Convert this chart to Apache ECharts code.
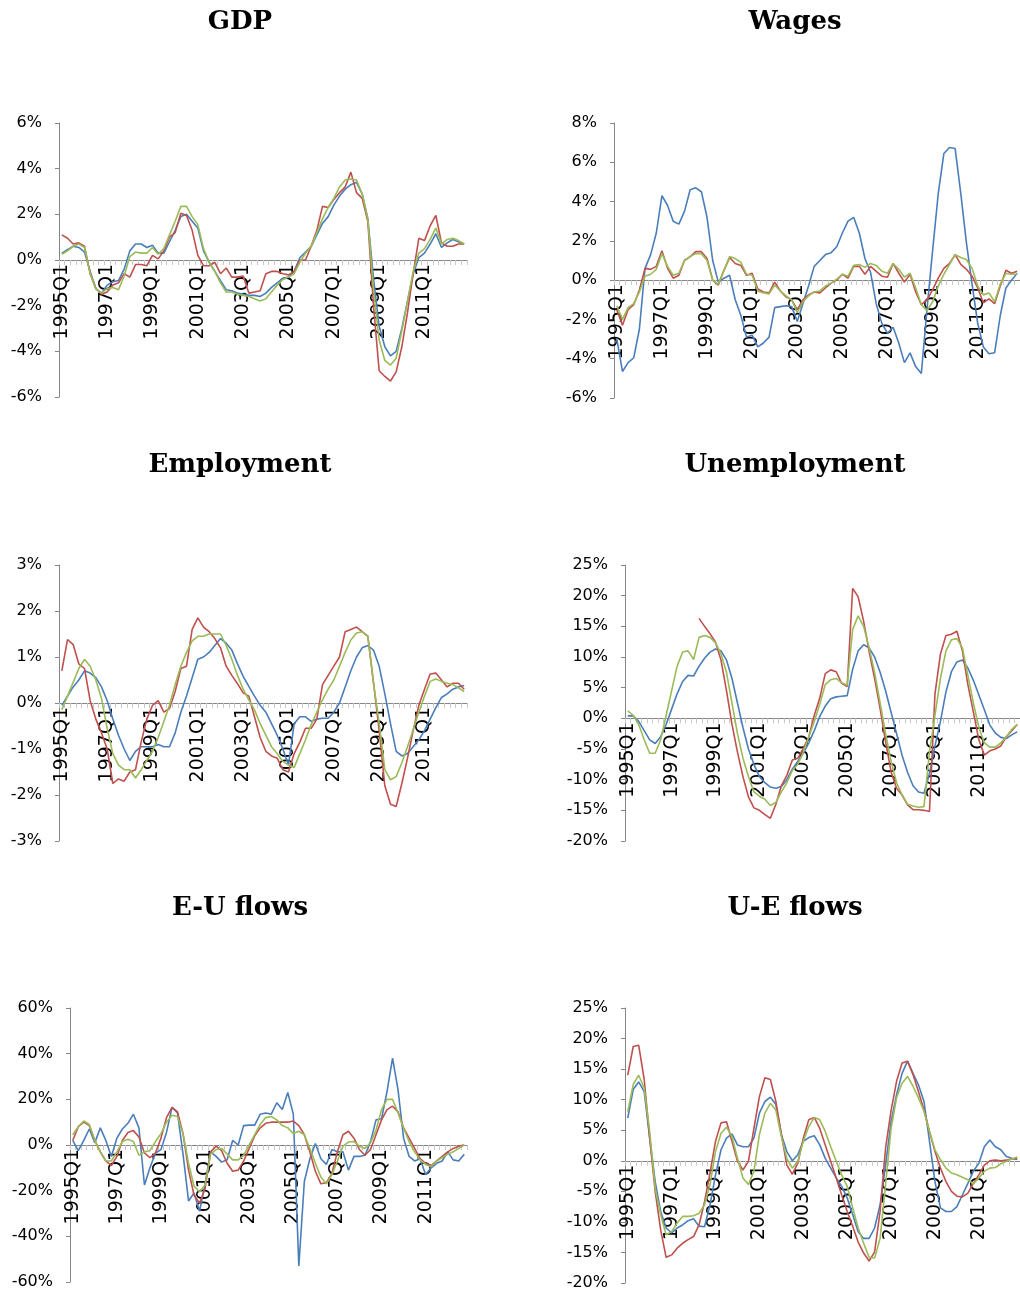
<!DOCTYPE html>
<html><head><meta charset="utf-8">
<script src="https://cdn.jsdelivr.net/npm/echarts@6/dist/echarts.min.js"></script>
<style>html,body{margin:0;padding:0;background:#fff;overflow:hidden}#c{width:1020px;height:1292px}</style>
</head><body><div id="c"></div><script>
const quarters = ['1995Q1','1995Q2','1995Q3','1995Q4','1996Q1','1996Q2','1996Q3','1996Q4','1997Q1','1997Q2','1997Q3','1997Q4','1998Q1','1998Q2','1998Q3','1998Q4','1999Q1','1999Q2','1999Q3','1999Q4','2000Q1','2000Q2','2000Q3','2000Q4','2001Q1','2001Q2','2001Q3','2001Q4','2002Q1','2002Q2','2002Q3','2002Q4','2003Q1','2003Q2','2003Q3','2003Q4','2004Q1','2004Q2','2004Q3','2004Q4','2005Q1','2005Q2','2005Q3','2005Q4','2006Q1','2006Q2','2006Q3','2006Q4','2007Q1','2007Q2','2007Q3','2007Q4','2008Q1','2008Q2','2008Q3','2008Q4','2009Q1','2009Q2','2009Q3','2009Q4','2010Q1','2010Q2','2010Q3','2010Q4','2011Q1','2011Q2','2011Q3','2011Q4','2012Q1','2012Q2','2012Q3','2012Q4'];

const gdpBlue = [0.3,0.45,0.6,0.55,0.35,-0.5,-1.25,-1.45,-1.1,-0.95,-0.9,-0.4,0.4,0.7,0.7,0.55,0.65,0.3,0.3,0.8,1.3,1.9,2.0,1.7,1.4,0.4,-0.1,-0.5,-0.9,-1.3,-1.35,-1.45,-1.5,-1.55,-1.55,-1.6,-1.45,-1.2,-1.0,-0.8,-0.75,-0.5,0.1,0.35,0.6,1.1,1.6,1.9,2.4,2.8,3.1,3.3,3.4,2.9,1.8,-0.8,-2.9,-3.8,-4.2,-4.0,-3.0,-1.8,-0.6,0.1,0.3,0.7,1.15,0.55,0.75,0.9,0.8,0.7];
const gdpRed = [1.1,0.95,0.7,0.75,0.6,-0.6,-1.25,-1.5,-1.4,-1.1,-1.0,-0.6,-0.75,-0.2,-0.2,-0.25,0.2,0.05,0.4,1.0,1.2,2.05,1.95,1.3,0.2,-0.25,-0.25,-0.1,-0.6,-0.35,-0.75,-0.75,-0.7,-1.45,-1.4,-1.35,-0.6,-0.5,-0.5,-0.6,-0.65,-0.5,0,0,0.6,1.3,2.35,2.3,2.65,2.95,3.2,3.85,2.95,2.7,1.7,-2.0,-4.85,-5.1,-5.3,-4.9,-3.8,-2.3,-0.6,0.95,0.85,1.5,1.95,0.75,0.6,0.6,0.7,0.7];
const gdpGreen = [0.25,0.4,0.6,0.7,0.55,-0.6,-1.25,-1.45,-1.25,-1.2,-1.3,-0.7,0.15,0.35,0.3,0.3,0.55,0.25,0.5,1.1,1.7,2.35,2.35,1.9,1.55,0.5,-0.1,-0.5,-1.0,-1.4,-1.4,-1.5,-1.55,-1.6,-1.7,-1.8,-1.7,-1.4,-1.1,-0.85,-0.75,-0.6,-0.1,0.3,0.6,1.2,1.8,2.3,2.7,3.2,3.5,3.55,3.5,2.9,1.8,-1.3,-3.5,-4.4,-4.6,-4.3,-3.1,-1.8,-0.5,0.3,0.5,0.9,1.4,0.7,0.9,0.95,0.85,0.7];

const wageBlue = [-3.0,-4.65,-4.2,-3.95,-2.5,0.6,1.3,2.4,4.3,3.8,3.0,2.85,3.5,4.6,4.7,4.5,3.2,1.0,-0.1,0.1,0.25,-1.0,-1.8,-2.9,-2.8,-3.4,-3.2,-2.9,-1.4,-1.35,-1.3,-1.35,-2.1,-1.2,-0.3,0.7,1.0,1.3,1.4,1.7,2.4,3.0,3.2,2.4,1.1,0.4,-1.2,-2.2,-2.7,-2.4,-3.2,-4.2,-3.7,-4.4,-4.75,-1.5,1.5,4.4,6.45,6.75,6.7,4.4,1.9,-0.2,-2.2,-3.4,-3.75,-3.7,-1.8,-0.4,0.0,0.35];
const wageRed = [-1.5,-2.3,-1.5,-1.25,-0.5,0.6,0.55,0.7,1.5,0.6,0.1,0.25,1.0,1.2,1.45,1.45,1.1,0.0,-0.25,0.5,1.15,0.85,0.75,0.25,0.35,-0.45,-0.6,-0.65,-0.1,-0.55,-0.85,-1.0,-1.5,-1.0,-0.75,-0.6,-0.65,-0.4,-0.15,0,0.3,0.1,0.7,0.7,0.3,0.7,0.45,0.2,0.15,0.85,0.35,-0.1,0.3,-0.6,-1.25,-1.0,-0.5,0.1,0.6,0.85,1.3,0.8,0.55,0.2,-0.4,-1.15,-0.95,-1.2,-0.3,0.5,0.35,0.45];
const wageGreen = [-1.3,-2.0,-1.4,-1.2,-0.6,0.2,0.3,0.55,1.35,0.7,0.25,0.35,1.0,1.2,1.35,1.35,1.0,0.0,-0.2,0.5,1.2,1.1,0.9,0.3,0.25,-0.55,-0.65,-0.7,-0.25,-0.55,-0.8,-1.0,-1.65,-1.1,-0.8,-0.6,-0.55,-0.3,-0.15,0.05,0.3,0.2,0.75,0.8,0.65,0.85,0.75,0.45,0.35,0.85,0.55,0.15,0.35,-0.4,-1.25,-1.55,-1.1,-0.3,0.3,0.8,1.3,1.15,1.05,0.6,-0.3,-0.75,-0.65,-1.1,-0.2,0.35,0.3,0.3];

const empBlue = [-0.05,0.15,0.35,0.5,0.7,0.65,0.55,0.35,0.05,-0.35,-0.7,-1.0,-1.25,-1.05,-0.95,-0.95,-0.95,-0.9,-0.95,-0.95,-0.65,-0.2,0.15,0.55,0.95,1.0,1.1,1.25,1.4,1.3,1.15,0.85,0.58,0.36,0.15,-0.05,-0.2,-0.45,-0.7,-1.0,-1.35,-0.45,-0.3,-0.3,-0.4,-0.35,-0.33,-0.33,-0.2,0.0,0.35,0.7,1.0,1.2,1.25,1.15,0.8,0.2,-0.45,-1.05,-1.15,-1.1,-0.95,-0.8,-0.6,-0.35,-0.1,0.12,0.2,0.3,0.35,0.38];
const empRed = [0.7,1.38,1.27,0.85,0.75,0.05,-0.35,-0.65,-1.0,-1.75,-1.65,-1.7,-1.5,-1.45,-0.85,-0.35,-0.05,0.05,-0.2,-0.12,0.25,0.75,0.8,1.6,1.85,1.65,1.55,1.4,1.2,0.8,0.6,0.42,0.22,0.15,-0.3,-0.75,-1.05,-1.15,-1.2,-1.45,-1.5,-1.1,-0.85,-0.55,-0.55,-0.35,0.4,0.6,0.8,1.0,1.55,1.6,1.65,1.55,1.45,0.45,-0.6,-1.8,-2.2,-2.25,-1.75,-1.2,-0.6,-0.05,0.3,0.63,0.65,0.5,0.35,0.43,0.43,0.3];
const empGreen = [-0.15,0.15,0.45,0.75,0.95,0.8,0.5,0.1,-0.55,-1.1,-1.35,-1.45,-1.45,-1.63,-1.45,-1.25,-1.05,-0.75,-0.4,-0.05,0.4,0.8,1.1,1.35,1.45,1.45,1.5,1.5,1.5,1.25,0.95,0.6,0.3,0.07,-0.15,-0.45,-0.7,-0.95,-1.1,-1.27,-1.35,-1.4,-1.1,-0.8,-0.47,-0.2,0.07,0.3,0.5,0.8,1.1,1.37,1.52,1.55,1.46,0.43,-0.43,-1.45,-1.67,-1.6,-1.3,-0.95,-0.58,-0.2,0.15,0.47,0.52,0.47,0.43,0.4,0.33,0.25];

const unBlue = [0.4,0.4,-0.5,-2.0,-3.5,-4.1,-3.0,-1.0,1.5,4.0,6.0,7.0,6.9,8.5,9.8,10.8,11.3,11.0,9.5,6.5,2.5,-1.5,-5.0,-7.5,-9.5,-10.5,-11.2,-11.4,-11.1,-10.0,-8.3,-7.0,-5.7,-4.0,-2.0,0.3,2.0,3.2,3.5,3.6,3.7,8.0,11.0,12.0,11.5,10.0,7.5,4.5,1.0,-2.5,-6.0,-8.8,-11.0,-12.0,-12.2,-9.0,-4.5,-0.5,4.3,7.6,9.2,9.5,8.2,6.2,3.8,1.4,-1.1,-2.4,-3.1,-3.3,-2.7,-2.2];
const unRed = [null,null,null,null,null,null,null,null,null,null,null,null,null,16.3,15.0,13.8,12.4,9.5,4.5,-1.0,-5.5,-9.5,-12.8,-14.6,-15.0,-15.7,-16.3,-14.0,-11.0,-9.3,-6.8,-6.5,-4.9,-3.0,0.5,3.3,7.3,7.9,7.6,5.7,5.2,21.2,19.8,15.8,10.9,6.5,1.6,-3.8,-8.7,-11.4,-12.5,-14.1,-14.9,-14.9,-15.0,-15.2,4.0,10.5,13.5,13.7,14.2,11.0,5.5,1.0,-3.5,-6.0,-5.3,-5.0,-4.5,-3.0,-2.0,-1.0];
const unGreen = [1.2,0.5,-1.0,-3.5,-5.7,-5.7,-3.5,0.5,4.5,8.5,10.8,11.0,9.6,13.2,13.5,13.2,12.3,10.5,7.5,2.5,-2.5,-6.5,-9.5,-12.0,-12.7,-13.2,-14.2,-13.7,-12.0,-10.5,-8.5,-7.5,-5.5,-3.0,-0.5,2.3,5.5,6.3,6.5,5.8,5.4,14.5,16.7,15.0,11.5,7.5,2.5,-2.5,-7.0,-10.5,-12.5,-14.0,-14.3,-14.5,-14.4,-5.5,0.5,6.5,11.0,12.8,13.0,11.5,7.0,2.5,-1.5,-4.0,-4.7,-4.7,-4.0,-3.0,-1.8,-1.0];

const euBlue = [2,-2.5,2,7,1,7.5,2,-5,3,7,9.5,13.5,7.5,-17.5,-10,-3.5,-2,5.5,16.5,14,-4,-24.5,-21,-29,-17,-3,-5,-7.5,-6.5,2,0,8.5,8.7,8.7,13.5,14,13.5,18.5,15.5,23,13.5,-53,-16,-6,0.7,-6,-8.5,-2,-3,-3,-11,-5,-5,-4.5,1.5,11,11.5,23.5,38,24,3,-5,-7,-6,-13,-10,-8,-7,-3,-6.5,-7,-4];
const euRed = [2,8,10,8.5,2,-3,-7,-9,-5,2,5.5,6.3,3.5,-3.5,-5.5,-3.5,3,12,16.5,14.5,5,-11,-22,-25.5,-19,-3,-0.5,-2.5,-8,-11.5,-11,-7,-1.5,4,7.5,9.5,10,10,10,10,10.5,8.5,4.5,-3,-11.5,-17,-16.5,-12.5,-3,4.5,6,3,-2,-4.5,-2,4.5,11,15.5,17,14.5,7.5,3,-1.5,-6,-8,-9,-7,-5,-3,-1.5,-0.5,0];
const euGreen = [4.5,8,10.5,9,2,-3,-7,-7,-3,1.5,2.5,1.5,-4.5,-3,-2.5,1.5,5,10,13,12.5,5,-8,-18,-20.5,-17.5,-4,-2,-1.5,-4,-6.5,-6.5,-4.5,0,4.5,9,12,12.5,11,8.5,7.5,5,6,4.5,-1.5,-8,-14,-17,-13,-7,-0.5,1.3,1.5,-0.5,-1.5,1,6.5,15.5,20,20,14,7.5,1.5,-3,-6.5,-8.5,-9.5,-7,-5.5,-4,-3,-1.5,0];

const ueBlue = [7,11.7,12.9,11.3,3.7,-3.4,-8.3,-11,-11.8,-11,-10.5,-9.8,-9.5,-10.7,-10.8,-7.2,-2.3,1.8,3.7,4.4,2.6,2.3,2.3,3.7,7.8,9.7,10.4,9.2,4.3,1.5,0,1,3.2,3.8,4.1,2.6,0.4,-1.2,-2.8,-4.2,-6.1,-8.8,-11.6,-12.7,-12.7,-11,-7.2,-0.7,6.4,10.8,14.3,16.3,14.3,12.4,9.7,3.2,-3.4,-7.7,-8.3,-8.3,-7.5,-5.6,-3.7,-1.7,-0.4,2.3,3.4,2.3,1.8,0.7,0.4,0.2];
const ueRed = [14,18.7,18.9,13.3,3.7,-5,-11.3,-15.8,-15.4,-14.3,-13.5,-12.9,-12.4,-10.5,-6.7,-2,3.2,6.2,6.4,3.2,-0.1,-1.5,-0.1,5.3,10.5,13.6,13.3,9.7,4.3,-0.7,-2.2,-0.4,3.7,6.7,7.1,5.3,2.6,-0.1,-2.8,-5.6,-8.3,-10.7,-13.3,-15.1,-16.4,-14.9,-8.3,2.1,8.2,13,16,16.3,14.1,11.3,8.3,4.8,1.5,-1.2,-3.4,-5,-5.8,-5.9,-5.3,-3.7,-2.3,-0.7,0,0.1,0,0.1,0.3,0.4];
const ueGreen = [8,12.5,14,11.9,4.8,-4.5,-8.8,-12.1,-11.6,-10.2,-9.1,-9.1,-9,-8.6,-7.2,-3.9,1.5,4.5,5.5,4,0.4,-2.8,-3.9,-1.7,4.3,7.8,9.4,8.3,4,0.4,-1.2,-0.1,3.2,5.6,7.1,6.7,4.8,2.3,-0.1,-2.3,-4.2,-7.7,-11,-13.5,-15.8,-15.9,-12.7,-3.9,5.3,10.3,12.7,13.8,12.2,10.3,8.1,4.8,1.8,0.2,-1.2,-2,-2.3,-2.7,-3.1,-3.8,-2.8,-1.7,-1.2,-1.1,-0.5,-0.1,0.3,0.6];

const titles = ['GDP','Wages','Employment','Unemployment','E-U flows','U-E flows'];
const yMin = [-6,-6,-3,-20,-60,-20];
const yMax = [6,8,3,25,60,25];
const yStep = [2,2,1,5,20,5];

const seriesSets = [
  [gdpBlue, gdpRed, gdpGreen],
  [wageBlue, wageRed, wageGreen],
  [empBlue, empRed, empGreen],
  [unBlue, unRed, unGreen],
  [euBlue, euRed, euGreen],
  [ueBlue, ueRed, ueGreen]
];
const colors = ['#4A7EBB', '#C0504D', '#9BBB59'];

// layout (pixels)
const grids = [
  {left: 59, top: 123, width: 408, height: 274},
  {left: 614, top: 123, width: 408, height: 275},
  {left: 59, top: 565, width: 408, height: 276},
  {left: 625, top: 565, width: 398, height: 276},
  {left: 70, top: 1008, width: 397, height: 274},
  {left: 625, top: 1008, width: 398, height: 275}
];
const titlePos = [[235, 4], [790, 4], [235, 447], [790, 447], [235, 890], [790, 890]];

const option = {
  animation: false,
  backgroundColor: '#ffffff',
  title: titles.map((t, i) => ({
    text: t, left: titlePos[i][0], top: titlePos[i][1], textAlign: 'center',
    textStyle: {fontFamily: 'DejaVu Serif', fontWeight: 'bold', fontSize: 26, color: '#000'}
  })),
  grid: grids.map(g => Object.assign({containLabel: false}, g)),
  xAxis: grids.map((g, i) => ({
    type: 'category', gridIndex: i, data: quarters, boundaryGap: true, position: 'bottom',
    // place the category axis (line, ticks, labels) on the zero line of the value axis
    offset: -g.height * (0 - yMin[i]) / (yMax[i] - yMin[i]),
    axisLine: {onZero: false, lineStyle: {color: '#868686', width: 1}},
    axisTick: {show: true, interval: 0, length: 5, lineStyle: {color: '#c8c8c8'}},
    axisLabel: {interval: 7, rotate: 90, margin: 4, fontSize: 19, fontFamily: 'DejaVu Sans', color: '#000'},
    splitLine: {show: false}
  })),
  yAxis: grids.map((g, i) => ({
    type: 'value', gridIndex: i, min: yMin[i], max: yMax[i], interval: yStep[i],
    axisLine: {show: true, lineStyle: {color: '#868686'}},
    axisTick: {show: true, length: 4, lineStyle: {color: '#868686'}},
    axisLabel: {formatter: '{value}%', margin: 17, fontSize: 16, fontFamily: 'DejaVu Sans', color: '#000'},
    splitLine: {show: false}
  })),
  series: []
};
seriesSets.forEach((set, i) => {
  set.forEach((d, k) => {
    option.series.push({
      type: 'line', xAxisIndex: i, yAxisIndex: i, data: d, symbol: 'none',
      connectNulls: false, lineStyle: {color: colors[k], width: 1.6}, itemStyle: {color: colors[k]}
    });
  });
});
const chart = echarts.init(document.getElementById('c'), null, {renderer: 'canvas'});
chart.setOption(option);
</script></body></html>
